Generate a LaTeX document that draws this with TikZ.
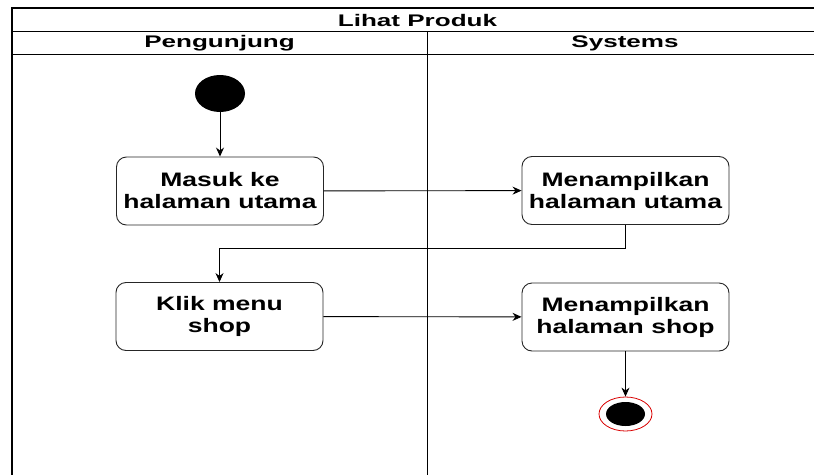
\documentclass[tikz,border=0pt]{standalone}
\usepackage{fontspec}
\newfontfamily\lanefont[FakeStretch=1.55]{Liberation Sans}
\newfontfamily\actfont[FakeStretch=1.36]{Liberation Sans}
\usetikzlibrary{arrows.meta,shapes.geometric}
\tikzset{
  lane/.style={inner sep=0pt, font=\fontsize{16.8}{20}\lanefont\bfseries},
  act/.style={draw=black!85, line width=0.9pt, rounded corners=10pt,
    minimum width=207pt, minimum height=68pt, inner sep=0pt, align=center,
    font=\fontsize{19.5}{22}\actfont\bfseries},
  start/.style={ellipse, fill=black, minimum width=50pt, minimum height=37pt, inner sep=0pt},
  finish/.style={ellipse, draw=red!85!black, line width=0.8pt, fill=white,
    minimum width=53pt, minimum height=34pt, inner sep=0pt,
    path picture={\fill[black] (path picture bounding box.center) ellipse (19.5pt and 12pt);}},
  flow/.style={-{Stealth[length=9pt,width=8pt]}, line width=0.9pt},
}
\begin{document}
\begin{tikzpicture}[x=1pt,y=-1pt]
  \useasboundingbox (0,0) rectangle (814,474);
  \clip (0,0) rectangle (814,474);
  % swimlanes
  \draw[line width=1.3pt] (12,480) -- (12,8) -- (830,8);
  \draw[line width=1pt] (12,31) -- (830,31);
  \draw[line width=1pt] (12,54) -- (830,54);
  \draw[line width=1pt] (427,31) -- (427,480);
  \node[lane] (judul) at (417.5,20) {Lihat Produk};
  \node[lane] (pengunjung) at (219.5,43) {Pengunjung};
  \node[lane] (systems) at (625,43) {Systems};
  % activities
  \node[start] (mulai) at (220,93.5) {};
  \node[act] (masuk) at (220,191) {Masuk ke\\halaman utama};
  \node[act] (utama) at (625.5,190.5) {Menampilkan\\halaman utama};
  \node[act] (klik) at (219.5,316.5) {Klik menu\\shop};
  \node[act] (shop) at (625.5,317) {Menampilkan\\halaman shop};
  \node[finish] (selesai) at (625.5,414) {};
  \begin{scope}[flow]
    \draw (mulai) -- (masuk);
    \draw (masuk) -- (utama);
    \draw (utama.south) -- ++(0,23) -| (klik.north);
    \draw (klik) -- (shop);
    \draw (shop) -- (selesai);
  \end{scope}
\end{tikzpicture}
\end{document}
